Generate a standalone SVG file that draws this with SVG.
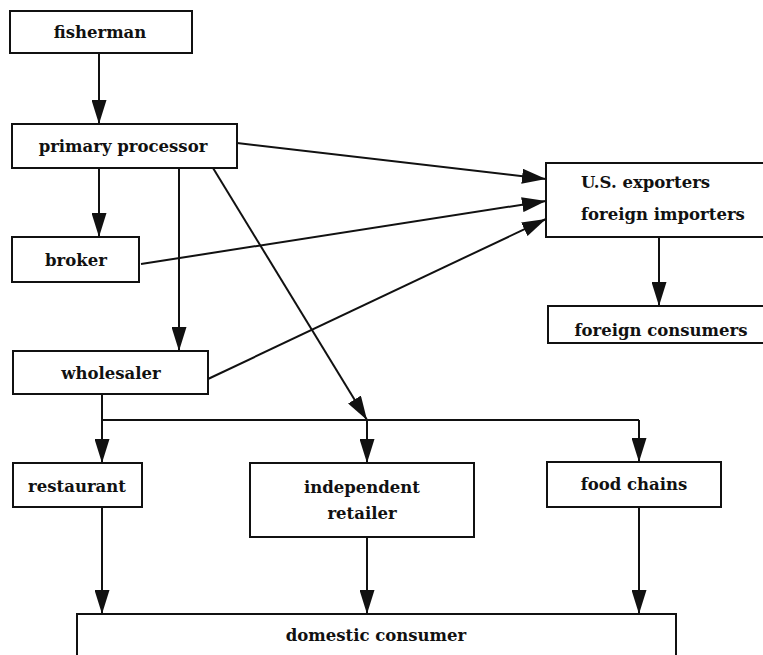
<svg xmlns="http://www.w3.org/2000/svg" width="763" height="655" viewBox="0 0 763 655">
<style>
.box{fill:#fff;stroke:#111;stroke-width:2}
.lbl{font-family:"DejaVu Serif","Liberation Serif",serif;font-weight:bold;font-size:16.5px;fill:#111;text-anchor:middle}
.lbl-l{text-anchor:start}
.edge{fill:none;stroke:#111;stroke-width:2}
.arr{marker-end:url(#ah)}
</style>
<defs>
<marker id="ah" markerUnits="userSpaceOnUse" markerWidth="24" markerHeight="15" refX="24" refY="7.5" orient="auto">
<path d="M0,0 L24,7.5 L0,15 z" fill="#111"/>
</marker>
</defs>
<rect width="763" height="655" fill="#fff"/>
<g id="connectors">
<line class="edge arr" x1="99" y1="53" x2="99" y2="124"/>
<line class="edge arr" x1="99" y1="168" x2="99" y2="237"/>
<line class="edge arr" x1="179" y1="168" x2="179" y2="351"/>
<line class="edge arr" x1="213" y1="168" x2="367" y2="420"/>
<line class="edge arr" x1="237" y1="143" x2="546" y2="179"/>
<line class="edge arr" x1="141" y1="264" x2="546" y2="201"/>
<line class="edge arr" x1="208" y1="379" x2="546" y2="219"/>
<line class="edge arr" x1="659" y1="237" x2="659" y2="306"/>
<polyline class="edge" points="102,394 102,420 639,420"/>
<line class="edge arr" x1="102" y1="420" x2="102" y2="463"/>
<line class="edge arr" x1="367" y1="420" x2="367" y2="463"/>
<line class="edge arr" x1="639" y1="420" x2="639" y2="462"/>
<line class="edge arr" x1="102" y1="507" x2="102" y2="614"/>
<line class="edge arr" x1="367" y1="537" x2="367" y2="614"/>
<line class="edge arr" x1="639" y1="507" x2="639" y2="614"/>
</g>
<g id="fisherman"><rect class="box" x="10" y="11" width="182" height="42"/><text class="lbl" x="100" y="38">fisherman</text></g>
<g id="primary-processor"><rect class="box" x="12" y="124" width="225" height="44"/><text class="lbl" x="123" y="152">primary processor</text></g>
<g id="broker"><rect class="box" x="12" y="237" width="127" height="45"/><text class="lbl" x="76" y="266">broker</text></g>
<g id="wholesaler"><rect class="box" x="13" y="351" width="195" height="43"/><text class="lbl" x="111" y="379">wholesaler</text></g>
<g id="us-exporters"><rect class="box" x="546" y="163" width="230" height="74"/><text class="lbl lbl-l" x="581" y="188">U.S. exporters</text><text class="lbl lbl-l" x="581" y="220">foreign importers</text></g>
<g id="foreign-consumers"><rect class="box" x="548" y="306" width="228" height="37"/><text class="lbl" x="661" y="336">foreign consumers</text></g>
<g id="restaurant"><rect class="box" x="13" y="463" width="129" height="44"/><text class="lbl" x="77" y="492">restaurant</text></g>
<g id="independent-retailer"><rect class="box" x="250" y="463" width="224" height="74"/><text class="lbl" x="362" y="493">independent</text><text class="lbl" x="362" y="519">retailer</text></g>
<g id="food-chains"><rect class="box" x="547" y="462" width="174" height="45"/><text class="lbl" x="634" y="490">food chains</text></g>
<g id="domestic-consumer"><rect class="box" x="77" y="614" width="599" height="60"/><text class="lbl" x="376" y="641">domestic consumer</text></g>
</svg>
